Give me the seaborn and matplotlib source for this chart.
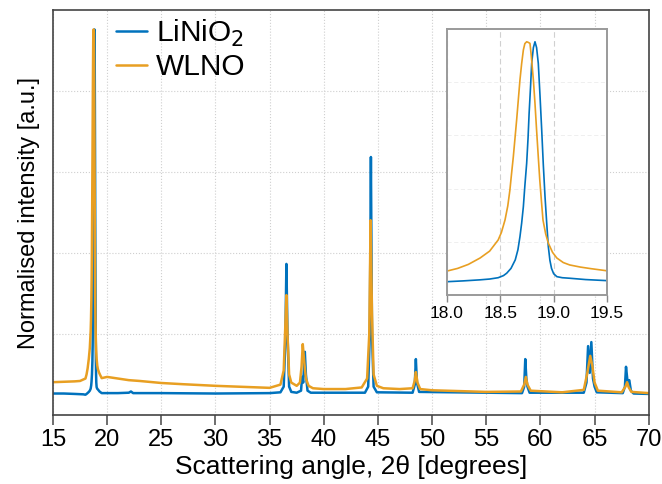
import numpy as np
import pandas as pd
import matplotlib
matplotlib.use("Agg")
import matplotlib.pyplot as plt
import seaborn as sns

# Diffraction patterns (2theta in degrees, normalised intensity)
lno_angle = [15.0, 16.0, 17.0, 17.8, 18.0, 18.15, 18.31, 18.40, 18.48, 18.53, 18.56, 18.60,
             18.64, 18.665, 18.684, 18.70, 18.716, 18.73, 18.747, 18.76, 18.77, 18.783,
             18.794, 18.81, 18.825, 18.84, 18.856, 18.872, 18.888, 18.903, 18.919, 18.935,
             18.95, 18.965, 18.98, 19.00, 19.03, 19.08, 19.15, 19.3, 19.5,
             20.0, 21.0, 22.0, 22.2, 22.4, 25.0, 30.0, 35.0, 36.0, 36.3,
             36.45, 36.55, 36.65, 36.8, 37.0, 37.5, 37.9, 38.0, 38.1, 38.25, 38.35, 38.5,
             38.8, 43.8, 44.1, 44.25, 44.35, 44.45, 44.6, 44.9, 48.2, 48.4, 48.5, 48.6,
             48.8, 58.3, 58.5, 58.6, 58.7, 58.8, 59.0, 64.0, 64.25, 64.4, 64.55, 64.7,
             64.85, 65.0, 65.2, 67.6, 67.8, 67.9, 68.05, 68.2, 68.35, 68.6, 70.0]
lno_intensity = [0.053, 0.053, 0.052, 0.051, 0.050, 0.053, 0.057, 0.060, 0.065, 0.073, 0.082, 0.100,
                 0.132, 0.170, 0.219, 0.270, 0.332, 0.410, 0.495, 0.590, 0.683, 0.780,
                 0.871, 0.930, 0.952, 0.930, 0.871, 0.750, 0.620, 0.490, 0.370, 0.270,
                 0.182, 0.130, 0.100, 0.080, 0.069, 0.065, 0.063, 0.058, 0.054,
                 0.054, 0.054, 0.055, 0.058, 0.054, 0.054, 0.053, 0.054, 0.056, 0.070,
                 0.180, 0.373, 0.200, 0.070, 0.057, 0.055, 0.060, 0.094, 0.080, 0.156, 0.100, 0.060,
                 0.055, 0.055, 0.070, 0.200, 0.637, 0.200, 0.070, 0.056, 0.055, 0.075, 0.138, 0.080,
                 0.057, 0.054, 0.070, 0.138, 0.090, 0.070, 0.055, 0.055, 0.080, 0.170, 0.104, 0.180,
                 0.090, 0.070, 0.056, 0.054, 0.070, 0.119, 0.080, 0.086, 0.060, 0.053, 0.052]

wlno_angle = [15.0, 16.0, 17.0, 17.5, 18.0, 18.10, 18.20, 18.31, 18.40, 18.48, 18.51, 18.544,
              18.57, 18.59, 18.605, 18.622, 18.64, 18.653, 18.67, 18.684, 18.70, 18.716,
              18.73, 18.747, 18.76, 18.778, 18.79, 18.81, 18.825, 18.84, 18.855, 18.87,
              18.885, 18.90, 18.925, 18.95, 18.99, 19.03, 19.09, 19.15, 19.25, 19.35, 19.5,
              20.0, 21.0, 22.0, 23.0, 25.0, 27.0, 30.0,
              33.0, 35.0, 36.0, 36.3, 36.45, 36.55, 36.65, 36.8, 37.0, 37.5, 37.8, 37.95,
              38.06, 38.2, 38.35, 38.6, 39.0, 40.0, 42.0, 43.5, 44.0, 44.2, 44.32, 44.45,
              44.6, 44.9, 45.5, 47.0, 48.2, 48.4, 48.5, 48.65, 48.9, 50.0, 55.0, 58.2, 58.5,
              58.65, 58.8, 59.1, 62.0, 64.0, 64.3, 64.6, 64.8, 65.0, 65.3, 67.5, 67.85,
              68.0, 68.15, 68.4, 70.0]
wlno_intensity = [0.081, 0.082, 0.083, 0.084, 0.090, 0.100, 0.115, 0.139, 0.165, 0.207, 0.235, 0.282,
                  0.335, 0.395, 0.455, 0.520, 0.600, 0.658, 0.740, 0.808, 0.870, 0.921,
                  0.945, 0.952, 0.950, 0.946, 0.900, 0.808, 0.720, 0.620, 0.525, 0.432,
                  0.355, 0.282, 0.230, 0.195, 0.160, 0.139, 0.122, 0.113, 0.105, 0.099, 0.091,
                  0.094, 0.090, 0.086, 0.084, 0.079, 0.076, 0.072,
                  0.069, 0.067, 0.075, 0.110, 0.220, 0.296, 0.200, 0.100, 0.080, 0.072, 0.080, 0.120,
                  0.175, 0.130, 0.090, 0.072, 0.066, 0.064, 0.064, 0.068, 0.090, 0.200, 0.481, 0.250,
                  0.100, 0.072, 0.066, 0.064, 0.066, 0.085, 0.106, 0.080, 0.064, 0.061, 0.057, 0.058, 0.075,
                  0.094, 0.075, 0.060, 0.056, 0.062, 0.100, 0.146, 0.120, 0.080, 0.060, 0.056, 0.070,
                  0.081, 0.068, 0.057, 0.054]

series_names = ["LiNiO$_2$", "WLNO"]
series_colors = ["#0072BD", "#E89F22"]
main_xticks = [15, 20, 25, 30, 35, 40, 45, 50, 55, 60, 65, 70]
inset_xticks = [18.0, 18.5, 19.0, 19.5]
y_grid = [0.2, 0.4, 0.6, 0.8]

df = pd.concat([
    pd.DataFrame({"angle": lno_angle, "intensity": lno_intensity, "sample": series_names[0]}),
    pd.DataFrame({"angle": wlno_angle, "intensity": wlno_intensity, "sample": series_names[1]}),
], ignore_index=True)

sns.set_style("white")
plt.rcParams["font.family"] = ["Liberation Sans", "DejaVu Sans"]
plt.rcParams["text.color"] = "black"
plt.rcParams["axes.labelcolor"] = "black"

fig = plt.figure(figsize=(6.62, 4.84), dpi=100)
ax = fig.add_axes([0.080, 0.1426, 0.900, 0.8367])

palette = dict(zip(series_names, series_colors))
sns.lineplot(data=df, x="angle", y="intensity", hue="sample", hue_order=series_names,
             palette=palette, linewidth=1.8, ax=ax, sort=False, estimator=None)

ax.set_xlim(15, 70)
ax.set_ylim(0, 1)
ax.set_xticks(main_xticks)
ax.set_yticks(y_grid)
ax.set_yticklabels([])
ax.tick_params(axis="y", length=0)
ax.tick_params(axis="x", direction="out", length=7, width=1.2, color="#555555",
               labelcolor="black", labelsize=17, pad=3, bottom=True)
ax.grid(True, which="major", linestyle=":", linewidth=0.8, color="#cfcfcf")
for s in ax.spines.values():
    s.set_color("#444444")
    s.set_linewidth(1.2)
ax.set_xlabel("Scattering angle, 2θ [degrees]", fontsize=19, labelpad=3)
ax.set_ylabel("Normalised intensity [a.u.]", fontsize=17, labelpad=6)

leg = ax.legend(loc="upper left", bbox_to_anchor=(0.085, 1.01), frameon=False,
                fontsize=21.5, handlelength=1.05, handletextpad=0.3, labelspacing=0.15,
                borderaxespad=0.0)
for line in leg.get_lines():
    line.set_linewidth(1.8)

# Inset: zoom on the (003) reflection
axin = fig.add_axes([0.6752, 0.3905, 0.2417, 0.5496])
axin.set_facecolor("white")
sns.lineplot(data=df, x="angle", y="intensity", hue="sample", hue_order=series_names,
             palette=palette, linewidth=1.2, ax=axin, sort=False, estimator=None, legend=False)
axin.set_xlim(18.0, 19.5)
axin.set_ylim(0, 1)
axin.set_xticks(inset_xticks)
axin.set_xticklabels([f"{t:.1f}" for t in inset_xticks])
axin.set_yticks(y_grid)
axin.set_yticklabels([])
axin.set_xlabel("")
axin.set_ylabel("")
axin.tick_params(axis="y", length=0)
axin.tick_params(axis="x", direction="out", length=5, width=1.0, color="#888888",
                 labelcolor="black", labelsize=12.5, pad=3, bottom=True)
axin.grid(True, axis="x", linestyle=(0, (5, 3)), linewidth=0.8, color="#d0d0d0")
axin.grid(True, axis="y", linestyle=(0, (5, 3)), linewidth=0.6, color="#ececec")
for s in axin.spines.values():
    s.set_color("#9a9a9a")
    s.set_linewidth(1.4)

fig.savefig("out.png", dpi=100)
